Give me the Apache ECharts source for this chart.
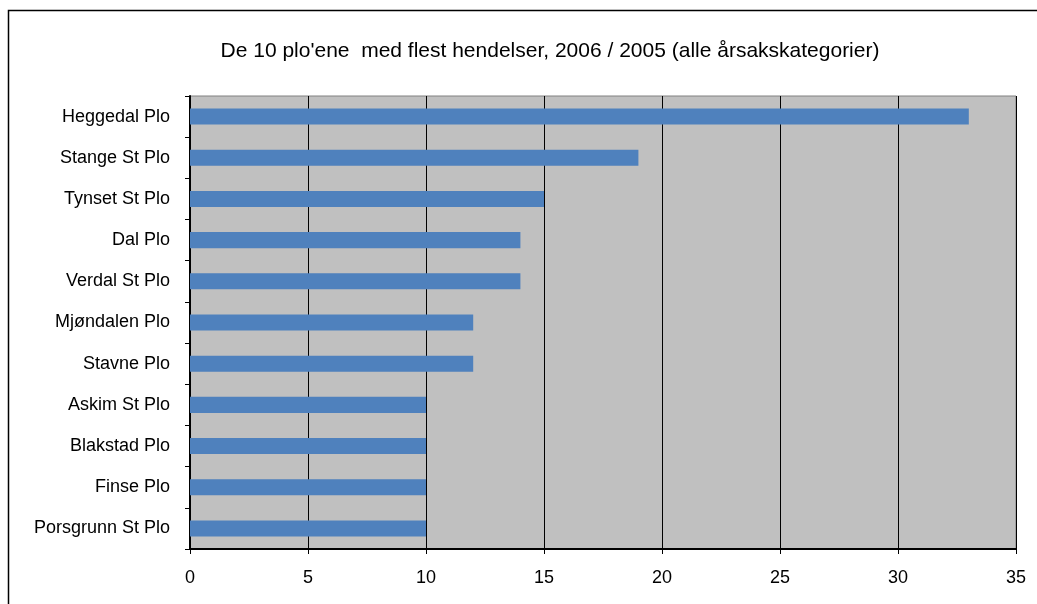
<!DOCTYPE html>
<html>
<head>
<meta charset="utf-8">
<style>
  html, body { margin: 0; padding: 0; background: #ffffff; }
  #chart { width: 1037px; height: 604px; }
</style>
<script src="https://cdn.jsdelivr.net/npm/echarts@6/dist/echarts.min.js"></script>
</head>
<body>
<div id="chart"></div>
<script>
// Stations, top to bottom as listed on the chart
const stations = [
  'Heggedal Plo', 'Stange St Plo', 'Tynset St Plo', 'Dal Plo', 'Verdal St Plo',
  'Mjøndalen Plo', 'Stavne Plo', 'Askim St Plo', 'Blakstad Plo', 'Finse Plo',
  'Porsgrunn St Plo'
];
// Number of events per station
const events = [33, 19, 15, 14, 14, 12, 12, 10, 10, 10, 10];
const xTicks = [0, 5, 10, 15, 20, 25, 30, 35];

const chart = echarts.init(document.getElementById('chart'), null, { renderer: 'canvas' });

const font = 'Liberation Sans, Arial, sans-serif';

chart.setOption({
  animation: false,
  backgroundColor: '#ffffff',
  title: {
    text: "De 10 plo'ene  med flest hendelser, 2006 / 2005 (alle årsakskategorier)",
    left: 545,
    top: 36,
    textAlign: 'center',
    textStyle: { fontFamily: font, fontSize: 21, fontWeight: 'normal', color: '#000000' }
  },
  graphic: [
    {
      type: 'rect',
      shape: { x: 8.5, y: 10.5, width: 1100, height: 700 },
      style: { fill: 'none', stroke: '#000000', lineWidth: 1.5 },
      z: 0
    }
  ],
  grid: {
    left: 190, right: 21, top: 96, bottom: 55,
    show: true,
    backgroundColor: '#c0c0c0',
    borderColor: '#808080',
    borderWidth: 1
  },
  xAxis: {
    type: 'value',
    min: 0, max: 35, interval: 5,
    axisLine: { show: true, lineStyle: { color: '#000000', width: 2 } },
    axisTick: { show: true, length: 5, lineStyle: { color: '#000000' } },
    axisLabel: {
      fontFamily: font, fontSize: 18, color: '#000000', margin: 20,
      formatter: v => xTicks.includes(v) ? String(v) : ''
    },
    splitLine: { show: true, lineStyle: { color: '#000000', width: 1 } }
  },
  yAxis: {
    type: 'category',
    inverse: true,
    data: stations,
    axisLine: { show: true, lineStyle: { color: '#000000', width: 2 } },
    axisTick: { show: true, length: 5, alignWithLabel: false, lineStyle: { color: '#000000' } },
    axisLabel: { fontFamily: font, fontSize: 18, color: '#000000', margin: 20 },
    splitLine: { show: false }
  },
  series: [
    {
      type: 'bar',
      data: events,
      barWidth: '39%',
      itemStyle: { color: '#4f81bd' }
    }
  ]
});
</script>
</body>
</html>
